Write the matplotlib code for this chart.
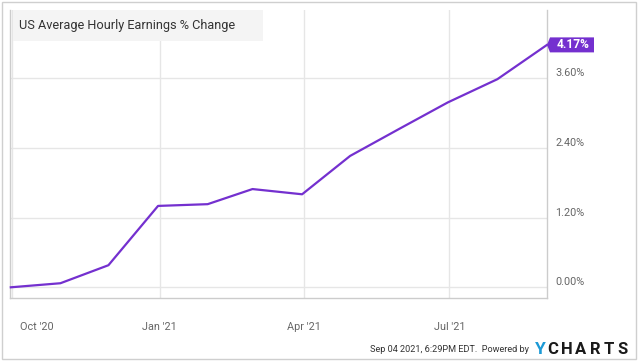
import matplotlib
matplotlib.use("Agg")
import matplotlib.pyplot as plt
import matplotlib.dates as mdates
import matplotlib.transforms as mtransforms
from matplotlib.patches import Rectangle, Polygon
import numpy as np
import pandas as pd

plt.rcParams['font.family'] = ['Roboto', 'DejaVu Sans']

# ---- data ----
dates = ["2020-09-30", "2020-10-31", "2020-11-30", "2020-12-31", "2021-01-31",
         "2021-02-28", "2021-03-31", "2021-04-30", "2021-05-31", "2021-06-30",
         "2021-07-31", "2021-08-31"]
values = [0.00, 0.07, 0.38, 1.40, 1.43, 1.69, 1.60, 2.26, 2.73, 3.18, 3.58, 4.17]
ytick_vals = [0.0, 1.2, 2.4, 3.6]
ytick_labels = ["0.00%", "1.20%", "2.40%", "3.60%"]
xtick_dates = ["2020-10-01", "2021-01-01", "2021-04-01", "2021-07-01"]
xtick_labels = ["Oct '20", "Jan '21", "Apr '21", "Jul '21"]
title = "US Average Hourly Earnings % Change"
last_label = "4.17%"
footer = "Sep 04 2021, 6:29PM EDT.  Powered by"
logo_letters = ["C", "H", "A", "R", "T", "S"]

W, H = 640, 362
fig = plt.figure(figsize=(W / 100, H / 100), dpi=100)
fig.patch.set_facecolor('white')

def fx(x):
    return x / W

def fy(y):
    return 1 - y / H

# outer border
fig.patches.append(Rectangle((fx(1.5), fy(358.5)), fx(636) - fx(1.5), fy(1.5) - fy(358.5),
                             transform=fig.transFigure, fill=False, edgecolor='#cfcfcf',
                             linewidth=1.0))

left, right, top, bottom = 10, 547, 10, 298
ax = fig.add_axes([fx(left), fy(bottom), fx(right) - fx(left), fy(top) - fy(bottom)])

x = mdates.date2num(pd.to_datetime(dates).to_pydatetime())
purple = '#7430cf'
ax.plot(x, values, color=purple, linewidth=1.6, solid_joinstyle='round', zorder=3, clip_on=False)

ax.set_xlim(mdates.date2num(pd.Timestamp("2020-09-29 12:00").to_pydatetime()),
            mdates.date2num(pd.Timestamp("2021-08-31").to_pydatetime()))
ax.set_ylim(-0.184, 4.77)

ax.set_yticks(ytick_vals)
ax.set_yticklabels(ytick_labels)
ax.yaxis.tick_right()
xt = mdates.date2num(pd.to_datetime(xtick_dates).to_pydatetime())
ax.set_xticks(xt)
ax.set_xticklabels(xtick_labels)

ax.grid(True, color='#e6e6e6', linewidth=1.0, zorder=0)
ax.tick_params(axis='both', length=0, labelsize=7.8, labelcolor='#666666')
ax.tick_params(axis='y', pad=6)
ax.tick_params(axis='x', pad=17)
for lab in ax.get_yticklabels():
    lab.set_transform(lab.get_transform() + mtransforms.ScaledTranslation(0, 6 / 100, fig.dpi_scale_trans))
xl = ax.get_xticklabels()
xl[0].set_transform(xl[0].get_transform() + mtransforms.ScaledTranslation(24 / 100, 0, fig.dpi_scale_trans))

for s in ['left', 'right', 'bottom']:
    ax.spines[s].set_color('#cccccc')
    ax.spines[s].set_linewidth(1.0)
ax.spines['top'].set_visible(False)

# last value label
tip_trans = fig.dpi_scale_trans + mtransforms.ScaledTranslation(x[-1], values[-1], ax.transData)
verts = np.array([[0, 0], [3, 7.5], [47, 7.5], [47, -7.5], [3, -7.5]]) / 100
ax.add_patch(Polygon(verts, closed=True, transform=tip_trans, facecolor=purple,
                     edgecolor='none', clip_on=False, zorder=5))
ax.text(26 / 100, 0, last_label, transform=tip_trans, color='white', fontsize=8.6,
        fontweight='bold', ha='center', va='center', zorder=6, clip_on=False)

# title box
fig.patches.append(Rectangle((fx(13), fy(41)), fx(263) - fx(13), fy(10) - fy(41),
                             transform=fig.transFigure, facecolor='#f4f4f4', edgecolor='none',
                             zorder=2))
fig.text(fx(19), fy(26), title, fontsize=9.2, color='#333333', ha='left', va='center',
         zorder=3)

# footer
fig.text(fx(529), fy(349), footer, fontsize=6.6, color='#333333', ha='right', va='center')
fig.text(fx(540.5), fy(349), "Y", fontsize=12.5, color='#1c9ad6', fontweight='bold',
         ha='center', va='center')
for i, ch in enumerate(logo_letters):
    fig.text(fx(553 + 14 * i), fy(349), ch, fontsize=12.0, color='#1a1a1a',
             fontweight='bold', ha='center', va='center')

fig.savefig("out.png", dpi=100)
